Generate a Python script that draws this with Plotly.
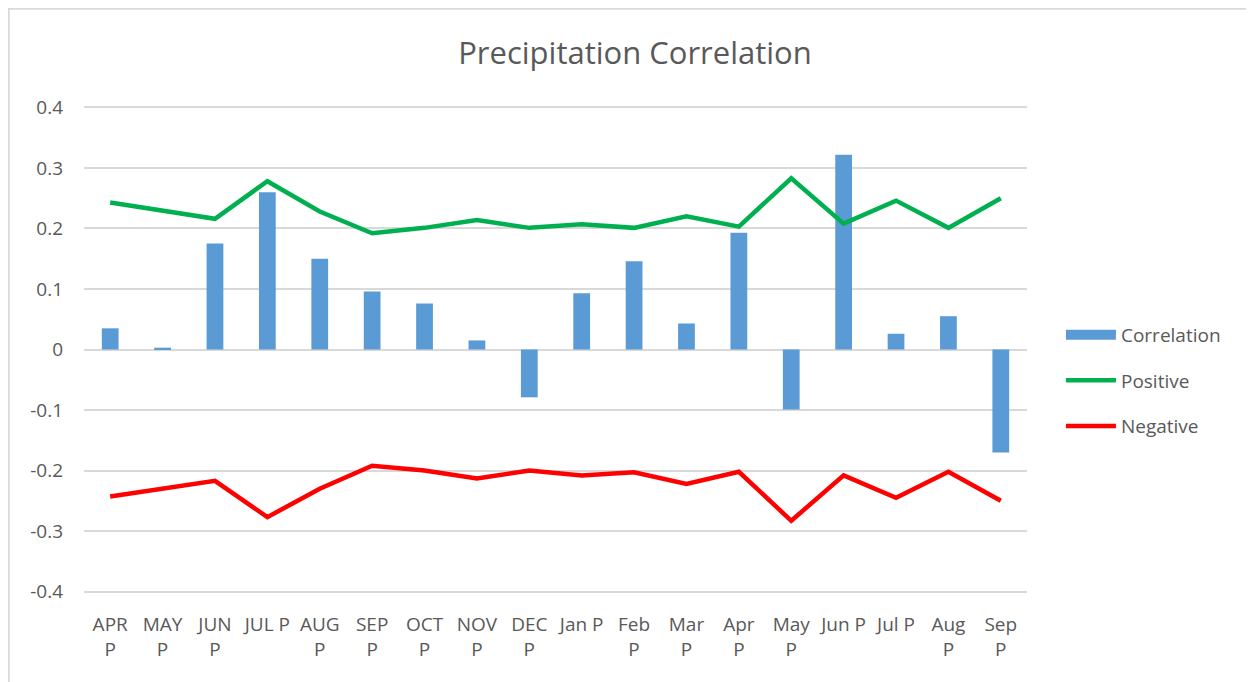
import plotly.graph_objects as go

categories = ["APR P", "MAY P", "JUN P", "JUL P", "AUG P", "SEP P", "OCT P", "NOV P", "DEC P",
              "Jan P", "Feb P", "Mar P", "Apr P", "May P", "Jun P", "Jul P", "Aug P", "Sep P"]
tick_labels = ["APR<br>P", "MAY<br>P", "JUN<br>P", "JUL P", "AUG<br>P", "SEP<br>P", "OCT<br>P", "NOV<br>P",
               "DEC<br>P", "Jan P", "Feb<br>P", "Mar<br>P", "Apr<br>P", "May<br>P", "Jun P", "Jul P",
               "Aug<br>P", "Sep<br>P"]
correlation = [0.035, 0.003, 0.175, 0.26, 0.15, 0.096, 0.076, 0.015, -0.079,
               0.093, 0.146, 0.043, 0.193, -0.099, 0.322, 0.026, 0.055, -0.17]
positive = [0.243, 0.23, 0.216, 0.278, 0.228, 0.192, 0.201, 0.214, 0.201,
            0.207, 0.201, 0.22, 0.203, 0.283, 0.208, 0.246, 0.201, 0.25]
negative = [-0.243, -0.23, -0.217, -0.277, -0.23, -0.192, -0.2, -0.213, -0.2,
            -0.208, -0.203, -0.222, -0.202, -0.283, -0.208, -0.245, -0.202, -0.25]
y_ticks = [-0.4, -0.3, -0.2, -0.1, 0, 0.1, 0.2, 0.3, 0.4]
y_tick_text = ["-0.4", "-0.3", "-0.2", "-0.1", "0", "0.1", "0.2", "0.3", "0.4"]

FONT = "Open Sans"
GREY = "#595959"
BLUE = "#5b9bd5"

fig = go.Figure()
fig.add_trace(go.Bar(x=categories, y=correlation, name="Correlation",
                     marker=dict(color=BLUE, line=dict(width=0)), width=0.32,
                     showlegend=False))
# legend entry drawn as a wide rectangle like the original
fig.add_trace(go.Scatter(x=[None], y=[None], name="Correlation", mode="lines",
                         line=dict(color=BLUE, width=11), legendgroup="a"))
fig.add_trace(go.Scatter(x=categories, y=positive, name="Positive", mode="lines",
                         line=dict(color="#00b050", width=4.5), legendgroup="b"))
fig.add_trace(go.Scatter(x=categories, y=negative, name="Negative", mode="lines",
                         line=dict(color="#ff0000", width=4.5), legendgroup="c"))

fig.update_layout(
    width=1254, height=682,
    margin=dict(l=76, r=235, t=97, b=96, autoexpand=False),
    paper_bgcolor="white", plot_bgcolor="white",
    font=dict(family=FONT, color=GREY, size=19),
    title=dict(text="Precipitation Correlation", x=0.5, xanchor="center",
               y=0.934, yanchor="middle", font=dict(family=FONT, size=31, color=GREY)),
    showlegend=True,
    legend=dict(x=1.036, xanchor="left", y=0.436, yanchor="middle",
                font=dict(family=FONT, size=19, color=GREY),
                tracegroupgap=18, itemwidth=50, bgcolor="rgba(0,0,0,0)"),
)
fig.update_xaxes(tickmode="array", tickvals=categories, ticktext=tick_labels,
                 showgrid=False, showline=False, ticks="", zeroline=False,
                 ticklabelstandoff=17, automargin=False,
                 tickfont=dict(family=FONT, size=19, color=GREY), tickangle=0)
fig.update_yaxes(range=[-0.404, 0.404], tickmode="array", tickvals=y_ticks, ticktext=y_tick_text,
                 showgrid=True, gridcolor="#d9d9d9", gridwidth=1.5, zeroline=True,
                 zerolinecolor="#d9d9d9", zerolinewidth=1.5, showline=False, ticks="",
                 ticklabelstandoff=20, automargin=False,
                 tickfont=dict(family=FONT, size=19, color=GREY))

# outer chart border (top and left edges visible)
fig.add_shape(type="rect", xref="paper", yref="paper",
              x0=(0.5 - 76) / 943, x1=(1300 - 76) / 943,
              y0=(586 - 760) / 489, y1=(586 - 0.5) / 489,
              line=dict(color="#d9d9d9", width=2.5), fillcolor="rgba(0,0,0,0)", layer="below")

fig.write_html("out.html")
